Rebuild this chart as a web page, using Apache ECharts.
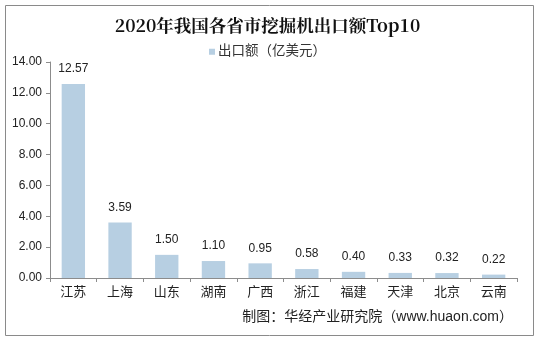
<!DOCTYPE html>
<html>
<head>
<meta charset="utf-8">
<script src="https://cdn.jsdelivr.net/npm/echarts@6/dist/echarts.min.js"></script>
<style>
  html, body { margin: 0; padding: 0; background: #fff; }
  #chart { width: 535px; height: 337px; }
</style>
</head>
<body>
<div id="chart"></div>
<script>
// Provinces ranked by excavator export value (100 million USD)
const provinces = ['江苏', '上海', '山东', '湖南', '广西', '浙江', '福建', '天津', '北京', '云南'];
const exportValues = [12.57, 3.59, 1.50, 1.10, 0.95, 0.58, 0.40, 0.33, 0.32, 0.22];
const seriesName = '出口额（亿美元）';
const titleText = '2020年我国各省市挖掘机出口额Top10';
const sourceText = '制图：华经产业研究院（www.huaon.com）';

const chart = echarts.init(document.getElementById('chart'));
const axisColor = '#8c8c8c';
const textColor = '#222';
const sans = 'Liberation Sans, Arial, "Noto Sans CJK SC", sans-serif';

chart.setOption({
  animation: false,
  backgroundColor: '#fff',
  title: {
    text: titleText,
    left: 'center',
    top: 12,
    textStyle: {
      fontFamily: '"Noto Serif CJK SC", "Noto Sans CJK SC", serif',
      fontSize: 17.5,
      fontWeight: 'bold',
      color: '#111'
    }
  },
  legend: {
    top: 40,
    left: 'center',
    itemWidth: 6,
    itemHeight: 6,
    itemGap: 4,
    icon: 'rect',
    textStyle: { fontFamily: sans, fontSize: 13.5, color: '#333', padding: [0, 0, 0, -2] },
    data: [seriesName]
  },
  grid: { left: 50, right: 18, top: 62, bottom: 59, containLabel: false },
  xAxis: {
    type: 'category',
    data: provinces,
    axisLine: { lineStyle: { color: axisColor } },
    axisTick: { show: true, alignWithLabel: false, length: 4, lineStyle: { color: axisColor } },
    axisLabel: { fontFamily: sans, fontSize: 13, color: textColor, margin: 8 }
  },
  yAxis: {
    type: 'value',
    min: 0,
    max: 14,
    interval: 2,
    axisLine: { show: true, lineStyle: { color: axisColor } },
    axisTick: { show: true, length: 4, lineStyle: { color: axisColor } },
    splitLine: { show: false },
    axisLabel: {
      fontFamily: sans, fontSize: 12, color: textColor, margin: 8,
      formatter: v => v.toFixed(2)
    }
  },
  series: [{
    name: seriesName,
    type: 'bar',
    data: exportValues,
    barWidth: '50%',
    itemStyle: { color: '#b7cfe2' },
    label: {
      show: true,
      position: 'top',
      distance: 9,
      fontFamily: sans,
      fontSize: 12,
      color: textColor,
      formatter: p => p.value.toFixed(2)
    }
  }],
  graphic: [
    {
      type: 'rect',
      left: 3, top: 3,
      shape: { width: 528, height: 330 },
      style: { fill: 'none', stroke: '#8a8a8a', lineWidth: 1 },
      silent: true
    },
    {
      type: 'text',
      right: 22, top: 310,
      style: { text: sourceText, font: '14px ' + sans, fill: '#222' }
    }
  ]
});
</script>
</body>
</html>
